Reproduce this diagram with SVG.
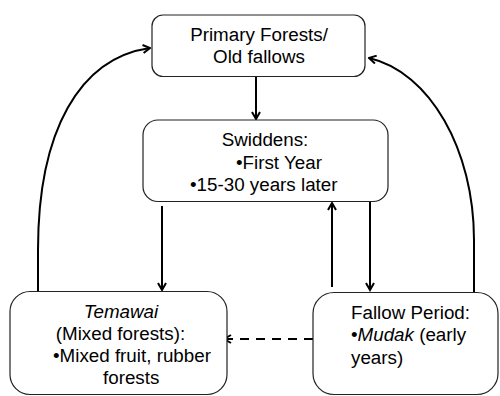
<svg xmlns="http://www.w3.org/2000/svg" width="500" height="396" viewBox="0 0 500 396">
<style>
.box{fill:#fff;stroke:#222;stroke-width:1.2}
.t{font-family:"Liberation Sans",Arial,sans-serif;font-size:18.8px;fill:#000}
.c{text-anchor:middle}
.i{font-style:italic}
.a{fill:none;stroke:#000;stroke-width:2;marker-end:url(#ah)}
.d{stroke-dasharray:9 7}
</style>
<defs>
<marker id="ah" viewBox="0 0 10 10" refX="8.5" refY="5" markerWidth="10" markerHeight="10" markerUnits="userSpaceOnUse" orient="auto">
<path d="M1.5,1 L8.5,5 L1.5,9" fill="none" stroke="#000" stroke-width="2"/>
</marker>
</defs>
<g id="connectors">
<line class="a" x1="256" y1="77" x2="256" y2="119"/>
<line class="a" x1="162" y1="206" x2="162" y2="290"/>
<line class="a" x1="332" y1="287" x2="332" y2="203"/>
<line class="a" x1="370" y1="202" x2="370" y2="290"/>
<line class="a d" x1="313" y1="339" x2="224" y2="339"/>
<path class="a" d="M38,292 L38,250 C38,130 80,58 150,48"/>
<path class="a" d="M474,292 L474,240 C474,150 430,72 369,58"/>
</g>
<g id="primary">
<rect class="box" x="152" y="15" width="213" height="61.5" rx="11"/>
<text class="t c" x="259" y="41">Primary Forests/</text>
<text class="t c" x="259" y="63">Old fallows</text>
</g>
<g id="swiddens">
<rect class="box" x="143" y="120" width="245" height="81.5" rx="15"/>
<text class="t c" x="265" y="146">Swiddens:</text>
<text class="t" x="236" y="168.5">•First Year</text>
<text class="t" x="190" y="191">•15-30 years later</text>
</g>
<g id="temawai">
<rect class="box" x="10" y="291.5" width="217" height="103" rx="20"/>
<text class="t c i" x="121" y="318">Temawai</text>
<text class="t c" x="120.5" y="339.5">(Mixed forests):</text>
<text class="t" x="53" y="361.5">•Mixed fruit, rubber</text>
<text class="t" x="103" y="383.5">forests</text>
</g>
<g id="fallow">
<rect class="box" x="313" y="292.5" width="185" height="102" rx="21"/>
<text class="t" x="351" y="318.5">Fallow Period:</text>
<text class="t" x="351" y="341"><tspan>•</tspan><tspan class="i">Mudak</tspan> (early</text>
<text class="t" x="351" y="363.5">years)</text>
</g>
</svg>
